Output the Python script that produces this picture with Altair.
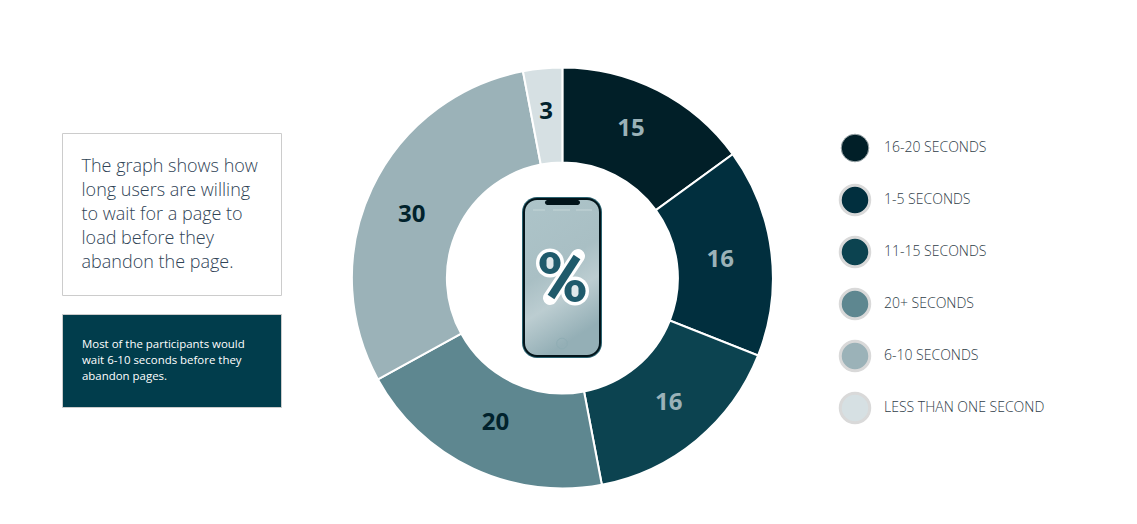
import altair as alt
import pandas as pd

categories = ["16-20 SECONDS", "1-5 SECONDS", "11-15 SECONDS", "20+ SECONDS", "6-10 SECONDS", "LESS THAN ONE SECOND"]
values = [15, 16, 16, 20, 30, 3]
slice_colors = ["#011f28", "#012f3e", "#0c4350", "#5e8790", "#9bb2b8", "#d6e0e3"]
label_colors = ["#9bb2b8", "#9bb2b8", "#9bb2b8", "#01222c", "#01222c", "#01222c"]
box_lines = ["The graph shows how", "long users are willing", "to wait for a page to", "load before they", "abandon the page."]
note_lines = ["Most of the participants would", "wait 6-10 seconds before they", "abandon pages."]

OX, OY = 8, 8
CX, CY = 562.4 - OX, 278 - OY
FONT = "Open Sans"

df = pd.DataFrame({"cat": categories, "v": values, "i": range(6), "lc": label_colors})
one = pd.DataFrame({"a": [0]})
pos_scale = alt.Scale(domain=[0, 508], range=[0, 508])


def box(x0, x1, y0, y1, **kw):
    return alt.Chart(one).mark_rect(**kw).encode(
        x=alt.value(x0 - OX), x2=alt.value(x1 - OX), y=alt.value(y0 - OY), y2=alt.value(y1 - OY))


def oval(cx, cy, w, h, **kw):
    return box(cx - w / 2, cx + w / 2, cy - h / 2, cy + h / 2, cornerRadius=min(w, h) / 2, **kw)


def bar(x0, y0, x1, y1, **kw):
    return alt.Chart(one).mark_rule(**kw).encode(
        x=alt.value(x0 - OX), x2=alt.value(x1 - OX), y=alt.value(y0 - OY), y2=alt.value(y1 - OY))


def text_block(lines, x, y0, step, **kw):
    d = pd.DataFrame({"t": lines, "n": range(len(lines))})
    d["py"] = y0 - OY + d["n"] * step
    return alt.Chart(d).mark_text(align="left", baseline="middle", font=FONT, **kw).encode(
        x=alt.value(x - OX), y=alt.Y("py:Q", scale=pos_scale, axis=None), text="t:N")


color = alt.Color("cat:N", scale=alt.Scale(domain=categories, range=slice_colors), legend=None, sort=None)
theta = alt.Theta("v:Q", stack=True)

arcs = alt.Chart(df).mark_arc(outerRadius=210.5, innerRadius=115.5, stroke="white", strokeWidth=2).encode(
    theta=theta, color=color, order=alt.Order("i:Q"), x=alt.value(CX), y=alt.value(CY))

# the source places its slice labels slightly off the mid-angle
nudges = [(-5, -5), (-3, 2), (3, 0), (2, -2), (-4, 6), (-1, -5)]
label_layers = []
for i, (dx, dy) in enumerate(nudges):
    label_layers.append(
        alt.Chart(df).mark_text(radius=162, font=FONT, fontWeight=700, fontSize=24, dx=dx, dy=dy).encode(
            theta=theta, detail="cat:N", order=alt.Order("i:Q"), text="v:Q",
            color=alt.Color("lc:N", scale=None),
            opacity=alt.condition(f"datum.i == {i}", alt.value(1), alt.value(0)),
            x=alt.value(CX), y=alt.value(CY)))

# legend
leg = df.copy()
leg["py"] = 148 - OY + leg["i"] * 52
yleg = alt.Y("py:Q", scale=pos_scale, axis=None)
fill = alt.Fill("cat:N", scale=alt.Scale(domain=categories, range=slice_colors), legend=None)
dots = alt.Chart(leg[leg.i > 0]).mark_circle(size=870, opacity=1, stroke="#d9d9d9", strokeWidth=3).encode(
    x=alt.value(855 - OX), y=yleg, fill=fill)
dot0 = alt.Chart(leg[leg.i == 0]).mark_circle(size=760, opacity=1, stroke="#9aa5a8", strokeWidth=1).encode(
    x=alt.value(855 - OX), y=yleg, fill=fill)
ltext = alt.Chart(leg).mark_text(align="left", baseline="middle", font=FONT, fontWeight=300, fontSize=14, color="#2f3d48").encode(
    x=alt.value(884 - OX), y=yleg, text="cat:N")

# left boxes
b1 = box(62.5, 281.5, 133.5, 295.5, fill="white", stroke="#cccccc", strokeWidth=1)
b2 = box(62.5, 281.5, 314.5, 407.5, fill="#013d4c", stroke="#cccccc", strokeWidth=1)
t1 = text_block(box_lines, 81.5, 167, 24, fontSize=18, fontWeight=300, color="#2f4356")
t2 = text_block(note_lines, 82, 345, 16, fontSize=11.45, color="white")

# phone
screen_fill = alt.Gradient(gradient="linear", x1=0, y1=0, x2=0.3, y2=1, stops=[
    alt.GradientStop(color="#adc4c9", offset=0), alt.GradientStop(color="#a9bfc4", offset=0.5),
    alt.GradientStop(color="#bccdd1", offset=0.72), alt.GradientStop(color="#94afb6", offset=1)])
p_body = box(522, 602, 197, 358, fill="#2c6472", cornerRadius=15)
p_inner = box(523, 601, 198, 357, fill="#02141a", cornerRadius=14)
p_screen = box(525, 599, 200, 355, fill=screen_fill, cornerRadius=12)
p_notch = box(545, 580, 200, 205, fill="#02141a", cornerRadius=3)
home = alt.Chart(one).mark_point(size=113, filled=False, stroke="#8fadb4", strokeWidth=1, shape="circle", opacity=1).encode(
    x=alt.value(562 - OX), y=alt.value(343.5 - OY))
status = [box(a, b, 209.5, 210.5, fill="#d5e2e5", opacity=0.6) for a, b in [(533, 545), (553, 570), (576, 592)]]

# percent sign
INK = "#1f5a6b"
pct = [
    bar(550, 298, 578, 256, stroke="white", strokeWidth=14, strokeCap="round"),
    oval(550, 263, 28, 29, fill="white"),
    oval(575, 291, 28, 29, fill="white"),
    bar(551, 297, 577, 257, stroke=INK, strokeWidth=8),
    oval(550, 263, 21, 22, fill=INK),
    oval(575, 291, 21, 22, fill=INK),
    oval(550, 263, 7, 12, fill="#dfe8ea"),
    oval(575, 291, 7, 12, fill="#dfe8ea"),
]

chart = alt.layer(
    b1, b2, t1, t2, arcs, *label_layers, p_body, p_inner, p_screen, p_notch, *status, home, *pct, dots, dot0, ltext
).resolve_scale(color="independent", y="shared", opacity="independent").properties(
    width=1121, height=508, padding=0, autosize=alt.AutoSizeParams(type="none")
).configure_view(stroke=None)

chart.save("out.html", embed_options={"renderer": "svg", "actions": False})
